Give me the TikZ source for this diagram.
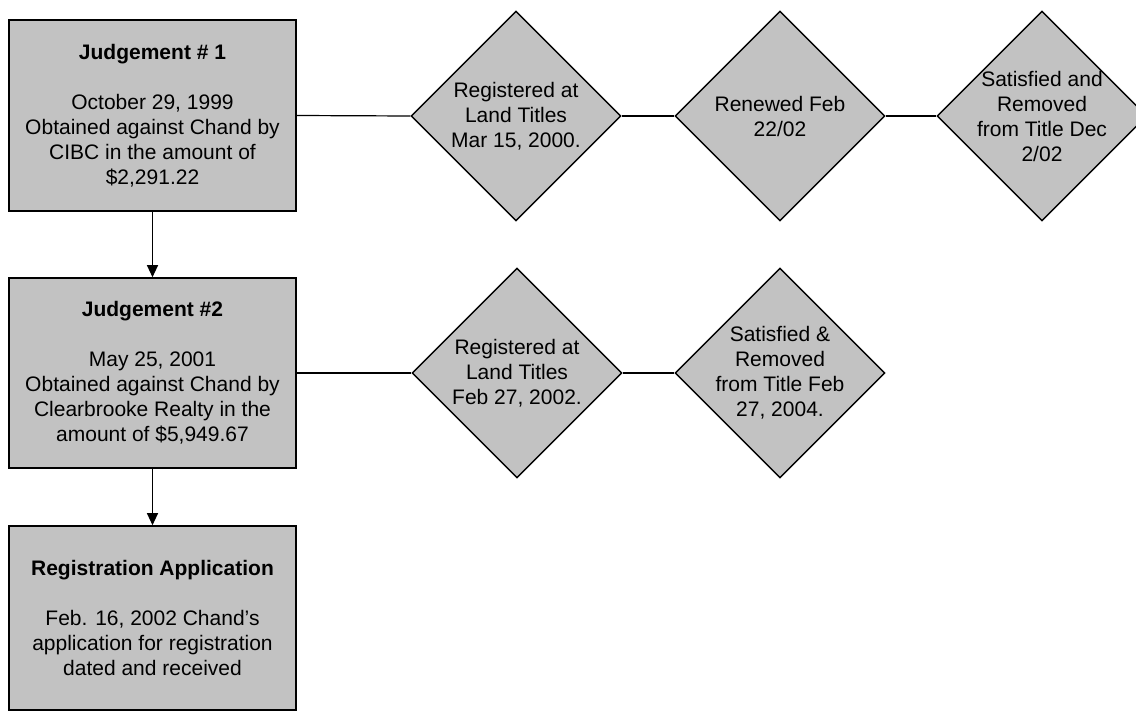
\documentclass[tikz,border=0pt]{standalone}
\usepackage{fontspec}
\setmainfont{Liberation Sans}
\usetikzlibrary{shapes.geometric,arrows.meta}
\definecolor{scan}{gray}{0.76}
\newcommand\dfont{\fontsize{21}{25}\selectfont}
\begin{document}
\begin{tikzpicture}[x=1pt,y=-1pt,
  box/.style={draw, line width=1.6pt, fill=scan, rectangle, minimum width=287pt,
    align=center, font=\dfont, inner sep=0pt},
  dia/.style={draw, line width=1.4pt, fill=scan, diamond, minimum width=210pt,
    minimum height=210pt, inner sep=0pt},
  dtext/.style={align=center, font=\dfont, inner sep=0pt},
  link/.style={line width=1.2pt},
  arr/.style={line width=1.2pt, -{Triangle[length=12pt,width=11pt]}}]
\useasboundingbox (0,0) rectangle (1136,712);
\fill[white] (0,0) rectangle (1136,712);

% left column boxes
\node[box, minimum height=191pt] (b1) at (152.5,115.5)
  {\textbf{Judgement \# 1}\\[25pt]October 29, 1999\\Obtained against Chand by\\CIBC in the amount of\\\$2,291.22};
\node[box, minimum height=190pt] (b2) at (152.5,373)
  {\textbf{Judgement \#2}\\[25pt]May 25, 2001\\Obtained against Chand by\\Clearbrooke Realty in the\\amount of \$5,949.67};
\node[box, minimum height=184pt] (b3) at (152.5,618)
  {\textbf{Registration Application}\\[25pt]Feb. 16, 2002 Chand{\char"0027}s\\application for registration\\dated and received};

% diamonds row 1
\node[dia] (d1) at (516,116) {};
\node[dtext] (t1) at (d1.center) {Registered at\\Land Titles\\Mar 15, 2000.};
\node[dia] (d2) at (780,116) {};
\node[dtext] (t2) at (d2.center) {Renewed Feb\\22/02};
\node[dia] (d3) at (1042,116) {};
\node[dtext] (t3) at (d3.center) {Satisfied and\\Removed\\from Title Dec\\2/02};

% diamonds row 2
\node[dia] (d4) at (517,373) {};
\node[dtext] (t4) at (d4.center) {Registered at\\Land Titles\\Feb 27, 2002.};
\node[dia] (d5) at (780,373) {};
\node[dtext] (t5) at (d5.center) {Satisfied \&\\Removed\\from Title Feb\\27, 2004.};

% connectors
\draw[arr] (b1.south) -- (b2.north);
\draw[arr] (b2.south) -- (b3.north);
\draw[link] (b1.east) -- (d1.west);
\draw[link] (d1.east) -- (d2.west);
\draw[link] (d2.east) -- (d3.west);
\draw[link] (b2.east) -- (d4.west);
\draw[link] (d4.east) -- (d5.west);
\end{tikzpicture}
\end{document}
